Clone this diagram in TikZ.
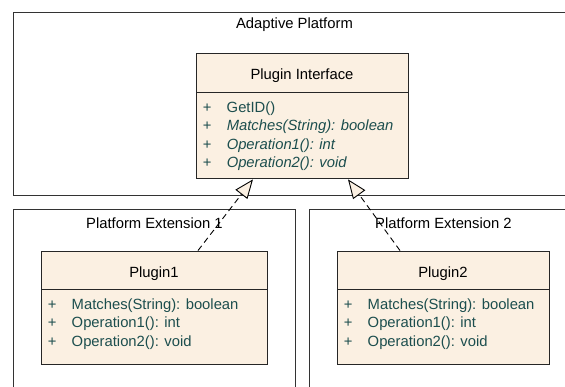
\documentclass[tikz,border=0pt]{standalone}
\usepackage{fontspec}
\setmainfont{Liberation Sans}
\usetikzlibrary{arrows.meta,positioning}

\definecolor{classfill}{RGB}{251,240,226}
\definecolor{membertext}{RGB}{28,78,78}
\newcommand{\plusop}{\makebox[24pt][l]{+}}

\tikzset{
  frame/.style={draw=black!80, line width=0.9pt, anchor=north west, inner sep=0pt},
  classhead/.style={draw=black!85, line width=0.9pt, fill=classfill, inner sep=0pt,
    text height=18pt, text depth=3pt},
  classbody/.style={draw=black!85, line width=0.9pt, fill=classfill, anchor=north, inner sep=0pt},
  members/.style={anchor=north west, align=left, inner sep=0pt, text=membertext},
  realize/.style={line width=0.9pt, dash pattern=on 6pt off 4pt,
    -{Triangle[length=19pt, width=15pt, fill=classfill]}}
}

\begin{document}
\begin{tikzpicture}[x=1pt, y=-1pt, font=\fontsize{14.8}{18.5}\selectfont]
  \clip (0,0) rectangle (565,387);

  % packages
  \node[frame, minimum width=562pt, minimum height=183pt] (platform) at (13,12) {};
  \node (platform-title) at ([yshift=-13pt]platform.north) {Adaptive Platform};
  \node[frame, minimum width=282pt, minimum height=200pt] (ext1) at (13,209) {};
  \node (ext1-title) at ([yshift=-14pt]ext1.north) {Platform Extension 1};
  \node[frame, minimum width=268pt, minimum height=200pt] (ext2) at (309,209) {};
  \node (ext2-title) at ([yshift=-14pt]ext2.north) {Platform Extension 2};

  % interface
  \node[classhead, minimum width=212pt, minimum height=39pt] (iface) at (302,72.5) {Plugin Interface};
  \node[classbody, minimum width=212pt, minimum height=86pt] (iface-body) at (iface.south) {};
  \node[members] (iface-ops) at ([xshift=7pt,yshift=-9pt]iface-body.north west)
    {\plusop GetID()\\
     \plusop\textit{Matches(String): boolean}\\
     \plusop\textit{Operation1(): int}\\
     \plusop\textit{Operation2(): void}};

  % plugins
  \node[classhead, minimum width=226pt, minimum height=38pt] (plugin1) at (154,270) {Plugin1};
  \node[classbody, minimum width=226pt, minimum height=75pt] (plugin1-body) at (plugin1.south) {};
  \node[members] (plugin1-ops) at ([xshift=7pt,yshift=-9pt]plugin1-body.north west)
    {\plusop Matches(String): boolean\\
     \plusop Operation1(): int\\
     \plusop Operation2(): void};

  \node[classhead, minimum width=212pt, minimum height=38pt] (plugin2) at (443,270) {Plugin2};
  \node[classbody, minimum width=212pt, minimum height=75pt] (plugin2-body) at (plugin2.south) {};
  \node[members] (plugin2-ops) at ([xshift=7pt,yshift=-9pt]plugin2-body.north west)
    {\plusop Matches(String): boolean\\
     \plusop Operation1(): int\\
     \plusop Operation2(): void};

  % realizations
  \draw[realize] ([xshift=44pt]plugin1.north) -- ([xshift=-49pt]iface-body.south);
  \draw[realize] ([xshift=-43pt]plugin2.north) -- ([xshift=46pt]iface-body.south);
\end{tikzpicture}
\end{document}
